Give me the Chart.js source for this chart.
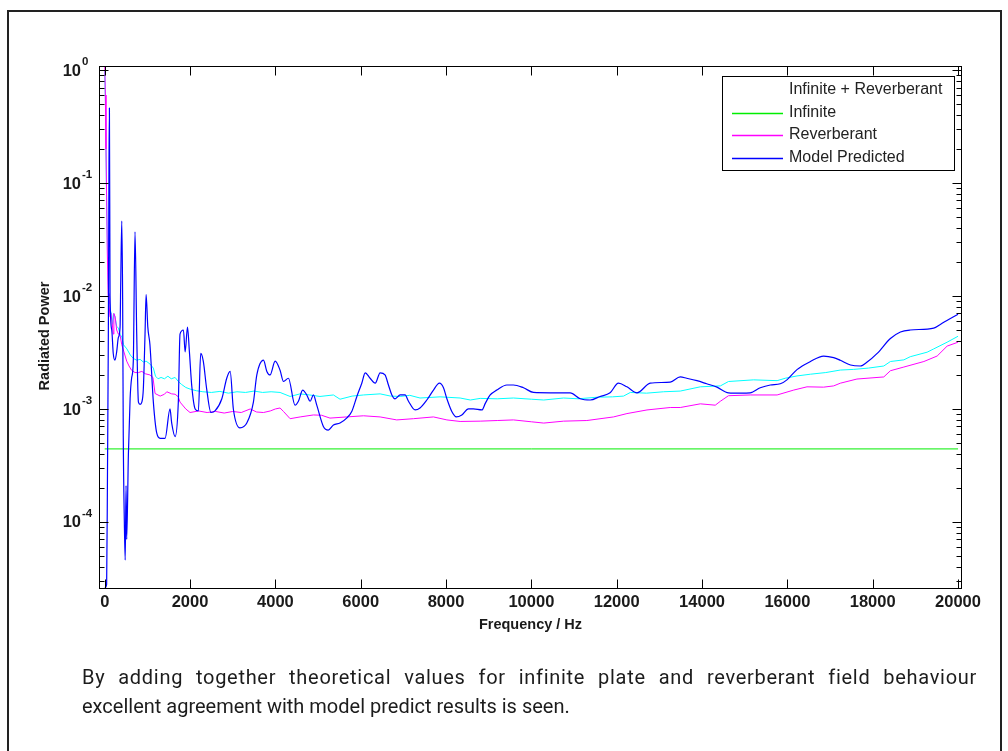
<!DOCTYPE html>
<html>
<head>
<meta charset="utf-8">
<title>Radiated Power vs Frequency</title>
<script src="https://cdn.jsdelivr.net/npm/chart.js@4/dist/chart.umd.min.js"></script>
<style>
  html, body { margin: 0; padding: 0; background: #fff; }
  body { width: 1008px; height: 751px; position: relative; overflow: hidden; }
  #frame { position: absolute; left: 7px; top: 10px; width: 995px; height: 800px;
           border: 2px solid #222; box-sizing: border-box; }
  #plot { position: absolute; left: 0; top: 0; }
  #caption { position: absolute; left: 82px; top: 663px; width: 895px;
             font-family: Roboto, "Liberation Sans", sans-serif; font-size: 20px;
             line-height: 29px; color: #1c1c1c; }
  #caption .full { text-align: justify; text-align-last: justify; letter-spacing: 0.7px; }
</style>
</head>
<body>
<div id="frame"></div>
<canvas id="plot" width="1008" height="751"></canvas>
<div id="caption">
  <div class="full">By adding together theoretical values for infinite plate and reverberant field behaviour</div>
  <div>excellent agreement with model predict results is seen.</div>
</div>
<script>
// ---- axis ticks ----
const xTickValues = [0, 2000, 4000, 6000, 8000, 10000, 12000, 14000, 16000, 18000, 20000];
const xTickLabels = ['0', '2000', '4000', '6000', '8000', '10000', '12000', '14000', '16000', '18000', '20000'];
const yDecadeExponents = [0, -1, -2, -3, -4];
const yDecadeLabels = ['0', '-1', '-2', '-3', '-4'];

// ---- series: Infinite (constant infinite-plate power) ----
const infiniteFreq  = [0, 20000];
const infinitePower = [4.43e-4, 4.43e-4];

// ---- series: Reverberant ----
const reverbFreq = [0, 15, 30, 45, 60, 80, 100, 125, 140, 170, 200, 215, 245, 280, 320, 360, 400, 450, 515, 570,
  630, 710, 790, 870, 950, 1060, 1130, 1180, 1300, 1400, 1455, 1570, 1650, 1725, 1765, 1900, 2000, 2200, 2400, 2600,
  2800, 3000, 3200, 3410, 3560, 3720, 3880, 4000, 4110, 4190, 4345, 4580, 4890, 5080, 5280, 5670, 6065, 6455, 6845, 7235,
  7705, 8020, 8330, 8800, 9200, 9580, 10000, 10290, 10755, 11300, 11925, 12240, 12710, 13255, 13490, 13960, 14310, 14430, 14620, 15130,
  15760, 16150, 16460, 16850, 17085, 17240, 17630, 18260, 18415, 18730, 19200, 19510, 19745, 20000];
const reverbPower = [1.2, 0.6, 0.2, 0.075, 0.025, 0.0105, 8.5e-3, 6.5e-3, 7.1e-3, 6.0e-3, 4.6e-3, 7.0e-3, 6.5e-3, 5.0e-3, 4.6e-3, 4.5e-3, 3.7e-3, 3.2e-3, 2.65e-3, 2.4e-3,
  2.2e-3, 2.1e-3, 2.1e-3, 2.15e-3, 2.05e-3, 2.0e-3, 1.9e-3, 1.37e-3, 1.3e-3, 1.35e-3, 1.42e-3, 1.36e-3, 1.35e-3, 1.28e-3, 1.15e-3, 1.0e-3, 9.3e-4, 9.6e-4, 9.3e-4, 9.5e-4,
  9.2e-4, 9.5e-4, 9.3e-4, 1.0e-3, 9.4e-4, 9.3e-4, 9.6e-4, 1.0e-3, 1.02e-3, 9.5e-4, 8.2e-4, 8.5e-4, 8.85e-4, 8.8e-4, 8.3e-4, 8.5e-4, 8.7e-4, 8.5e-4, 8.0e-4, 8.2e-4,
  8.5e-4, 8.0e-4, 7.75e-4, 7.8e-4, 7.9e-4, 8.0e-4, 7.7e-4, 7.5e-4, 7.8e-4, 7.9e-4, 8.5e-4, 9.1e-4, 9.8e-4, 1.03e-3, 1.03e-3, 1.11e-3, 1.08e-3, 1.17e-3, 1.31e-3, 1.33e-3,
  1.33e-3, 1.47e-3, 1.57e-3, 1.56e-3, 1.6e-3, 1.69e-3, 1.84e-3, 1.92e-3, 2.18e-3, 2.35e-3, 2.63e-3, 2.94e-3, 3.6e-3, 3.9e-3];

// ---- series: Infinite + Reverberant ----
const sumFreq = [0, 20, 40, 70, 90, 120, 140, 165, 185, 210, 240, 280, 320, 360, 400, 440, 520, 600, 670, 750,
  830, 905, 970, 1060, 1140, 1190, 1250, 1320, 1400, 1480, 1560, 1650, 1725, 1800, 1900, 2000, 2150, 2300, 2500, 2700,
  2900, 3100, 3300, 3500, 3700, 3900, 4110, 4345, 4580, 4800, 5045, 5360, 5515, 5800, 6065, 6455, 6700, 6925, 7150, 7390,
  7860, 8330, 8570, 8800, 9200, 9580, 10000, 10290, 10755, 11100, 11535, 11900, 12160, 12320, 12700, 13100, 13490, 13960, 14430, 14620,
  15210, 15760, 15950, 16225, 16540, 16900, 17240, 17555, 17900, 18260, 18415, 18730, 18880, 19275, 19430, 19745, 20000];
const sumPower = [1.0, 0.45, 0.09, 0.02, 0.011, 8.0e-3, 7.3e-3, 6.8e-3, 5.6e-3, 7.0e-3, 6.6e-3, 5.4e-3, 5.2e-3, 4.6e-3, 4.3e-3, 3.7e-3, 3.4e-3, 3.0e-3, 2.8e-3, 2.7e-3,
  2.75e-3, 2.6e-3, 2.65e-3, 2.5e-3, 2.3e-3, 1.95e-3, 1.85e-3, 1.9e-3, 1.85e-3, 1.95e-3, 1.85e-3, 1.9e-3, 1.75e-3, 1.65e-3, 1.55e-3, 1.5e-3, 1.45e-3, 1.42e-3, 1.4e-3, 1.43e-3,
  1.38e-3, 1.42e-3, 1.4e-3, 1.44e-3, 1.4e-3, 1.42e-3, 1.4e-3, 1.29e-3, 1.36e-3, 1.33e-3, 1.29e-3, 1.33e-3, 1.22e-3, 1.3e-3, 1.33e-3, 1.36e-3, 1.3e-3, 1.29e-3, 1.32e-3, 1.25e-3,
  1.28e-3, 1.25e-3, 1.2e-3, 1.24e-3, 1.23e-3, 1.25e-3, 1.22e-3, 1.2e-3, 1.25e-3, 1.23e-3, 1.27e-3, 1.28e-3, 1.3e-3, 1.4e-3, 1.38e-3, 1.42e-3, 1.44e-3, 1.57e-3, 1.6e-3, 1.75e-3,
  1.81e-3, 1.78e-3, 1.87e-3, 1.96e-3, 2.03e-3, 2.1e-3, 2.21e-3, 2.24e-3, 2.3e-3, 2.4e-3, 2.63e-3, 2.72e-3, 2.9e-3, 3.18e-3, 3.4e-3, 3.9e-3, 4.4e-3];

// ---- series: Model Predicted ----
const modelFreq = [0, 45, 65, 85, 100, 110, 125, 165, 200, 240, 280, 320, 360, 375, 400, 420, 435, 460, 480, 500,
  515, 555, 595, 630, 670, 710, 750, 790, 830, 870, 905, 945, 970, 1010, 1060, 1140, 1220, 1300, 1415, 1530,
  1570, 1650, 1725, 1765, 1845, 1885, 1940, 1985, 2040, 2120, 2195, 2250, 2310, 2390, 2490, 2585, 2745, 2860, 2940, 3015,
  3170, 3330, 3485, 3565, 3720, 3800, 3875, 3995, 4110, 4190, 4305, 4460, 4540, 4640, 4735, 4815, 4890, 4970, 5125, 5240,
  5360, 5515, 5670, 5790, 5910, 6025, 6105, 6220, 6340, 6455, 6570, 6650, 6730, 6805, 6925, 7040, 7120, 7275, 7390, 7550,
  7705, 7845, 7940, 8020, 8135, 8240, 8370, 8525, 8640, 8840, 8920, 9035, 9190, 9425, 9580, 9815, 10050, 10440, 10910, 11145,
  11380, 11610, 11845, 12040, 12240, 12475, 12785, 13255, 13490, 13640, 13880, 14110, 14350, 14620, 14895, 15130, 15365, 15600, 15835, 15990,
  16225, 16540, 16850, 17085, 17240, 17480, 17710, 17870, 18105, 18415, 18650, 18880, 19430, 19585, 19780, 20000];
const modelPower = [2.6e-5, 2.8e-5, 2.8e-4, 4.6e-3, 0.15, 0.46, 0.01, 5e-3, 3.1e-3, 2.7e-3, 3.2e-3, 4.3e-3, 5.3e-3, 0.013, 0.046, 9.5e-3, 5.7e-4, 1e-4, 4.6e-5, 2.1e-4,
  7e-5, 4e-4, 1.23e-3, 1.87e-3, 2.65e-3, 0.037, 4.6e-3, 1.15e-3, 1.1e-3, 1.15e-3, 1.5e-3, 4.6e-3, 0.0103, 5.3e-3, 3.7e-3, 1.15e-3, 6.1e-4, 5.5e-4, 5.5e-4, 1.0e-3,
  7.5e-4, 5.7e-4, 1.15e-3, 4.6e-3, 5.0e-3, 3.2e-3, 5.3e-3, 3.2e-3, 1.6e-3, 1.0e-3, 9.6e-4, 3.1e-3, 2.65e-3, 1.5e-3, 9.3e-4, 9.6e-4, 1.23e-3, 1.87e-3, 2.15e-3, 1.0e-3,
  6.8e-4, 7.5e-4, 1.15e-3, 2.0e-3, 2.7e-3, 2.15e-3, 2.0e-3, 2.65e-3, 2.2e-3, 1.75e-3, 1.87e-3, 1.08e-3, 1.17e-3, 1.47e-3, 1.33e-3, 1.17e-3, 1.33e-3, 1.08e-3, 7.0e-4, 6.5e-4,
  7.2e-4, 7.5e-4, 8.3e-4, 9.5e-4, 1.29e-3, 1.69e-3, 2.09e-3, 1.87e-3, 1.69e-3, 2.09e-3, 2.0e-3, 1.63e-3, 1.33e-3, 1.23e-3, 1.33e-3, 1.33e-3, 1.17e-3, 9.8e-4, 1.02e-3, 1.2e-3,
  1.47e-3, 1.69e-3, 1.54e-3, 1.23e-3, 9.5e-4, 8.5e-4, 8.85e-4, 1.0e-3, 1.0e-3, 9.8e-4, 1.12e-3, 1.33e-3, 1.47e-3, 1.63e-3, 1.63e-3, 1.54e-3, 1.4e-3, 1.39e-3, 1.39e-3, 1.23e-3,
  1.2e-3, 1.29e-3, 1.39e-3, 1.69e-3, 1.57e-3, 1.39e-3, 1.69e-3, 1.73e-3, 1.92e-3, 1.87e-3, 1.78e-3, 1.67e-3, 1.56e-3, 1.39e-3, 1.38e-3, 1.39e-3, 1.54e-3, 1.63e-3, 1.67e-3, 1.81e-3,
  2.23e-3, 2.63e-3, 2.94e-3, 2.85e-3, 2.7e-3, 2.45e-3, 2.4e-3, 2.6e-3, 3.1e-3, 4.2e-3, 4.8e-3, 5.0e-3, 5.2e-3, 5.6e-3, 6.2e-3, 6.9e-3];

// axis limits (tight around the data, as exported)
const X_MIN = -134, X_MAX = 20093;
const Y_MIN = 2.55e-5, Y_MAX = 1.085;

const toPoints = (xs, ys) => xs.map((f, i) => ({ x: f, y: ys[i] }));

const TICK_FONT = 'bold 16.5px "Liberation Sans", Arial, sans-serif';
const SUP_FONT = 'bold 11.5px "Liberation Sans", Arial, sans-serif';
const TITLE_FONT = 'bold 14.5px "Liberation Sans", Arial, sans-serif';
const LEGEND_FONT = '16px "Liberation Sans", Arial, sans-serif';
const TEXT_COLOR = '#1a1a1a';

// Box, inward ticks, tick labels, axis titles and legend, drawn from the chart's scales
const matlabAxes = {
  id: 'matlabAxes',
  afterDatasetsDraw(chart) {
    const { ctx, chartArea: a, scales: { x, y } } = chart;
    const L = Math.round(a.left) + 0.5, R = Math.round(a.right) - 0.5;
    const T = Math.round(a.top) + 0.5, B = Math.round(a.bottom) - 0.5;
    ctx.save();
    ctx.strokeStyle = '#000';
    ctx.lineWidth = 1;
    ctx.strokeRect(L, T, R - L, B - T);

    // x ticks (bottom and top, pointing inward)
    ctx.beginPath();
    xTickValues.forEach(v => {
      const px = Math.round(x.getPixelForValue(v)) + 0.5;
      ctx.moveTo(px, B); ctx.lineTo(px, B - 9);
      ctx.moveTo(px, T); ctx.lineTo(px, T + 9);
    });
    // y ticks, major and minor, on both sides
    yDecadeExponents.concat([-5]).forEach(e => {
      for (let m = 1; m <= 9; m++) {
        const v = m * Math.pow(10, e);
        if (v < Y_MIN || v > Y_MAX) continue;
        const py = Math.round(y.getPixelForValue(v)) + 0.5;
        const len = m === 1 ? 9 : 5;
        ctx.moveTo(L, py); ctx.lineTo(L + len, py);
        ctx.moveTo(R, py); ctx.lineTo(R - len, py);
      }
    });
    ctx.stroke();

    // x tick labels
    ctx.fillStyle = TEXT_COLOR;
    ctx.font = TICK_FONT;
    ctx.textAlign = 'center';
    ctx.textBaseline = 'middle';
    xTickValues.forEach((v, i) => {
      ctx.fillText(xTickLabels[i], x.getPixelForValue(v), a.bottom + 13);
    });

    // y tick labels: 10 with superscript exponent
    yDecadeExponents.forEach((e, i) => {
      const py = y.getPixelForValue(Math.pow(10, e));
      ctx.font = TICK_FONT;
      ctx.textAlign = 'right';
      ctx.textBaseline = 'middle';
      ctx.fillText('10', 81, py + 1);
      ctx.font = SUP_FONT;
      ctx.textAlign = 'left';
      ctx.fillText(yDecadeLabels[i], 82, py - 8);
    });

    // axis titles
    ctx.font = TITLE_FONT;
    ctx.textAlign = 'center';
    ctx.textBaseline = 'middle';
    ctx.fillText('Frequency / Hz', (a.left + a.right) / 2, 625);
    ctx.save();
    ctx.translate(45, 336);
    ctx.rotate(-Math.PI / 2);
    ctx.fillText('Radiated Power', 0, 0);
    ctx.restore();

    // legend box
    const lx = 722.5, ly = 76.5, lw = 232, lh = 94;
    ctx.fillStyle = '#fff';
    ctx.fillRect(lx, ly, lw, lh);
    ctx.strokeStyle = '#000';
    ctx.strokeRect(lx, ly, lw, lh);
    ctx.font = LEGEND_FONT;
    ctx.textAlign = 'left';
    ctx.textBaseline = 'middle';
    const rows = [90, 113, 135, 158];
    chart.data.datasets.forEach((ds, i) => {
      if (ds.legendLine) {
        ctx.strokeStyle = ds.borderColor;
        ctx.lineWidth = 1.5;
        ctx.beginPath();
        ctx.moveTo(732, rows[i] + 0.5); ctx.lineTo(783, rows[i] + 0.5);
        ctx.stroke();
      }
      ctx.fillStyle = '#222';
      ctx.fillText(ds.label, 789, rows[i]);
    });
    ctx.restore();
  }
};

new Chart(document.getElementById('plot'), {
  type: 'line',
  data: {
    datasets: [
      { label: 'Infinite + Reverberant', data: toPoints(sumFreq, sumPower), borderColor: '#00ffff',
        borderWidth: 1, order: 3, legendLine: false },
      { label: 'Infinite', data: toPoints(infiniteFreq, infinitePower), borderColor: '#00ee00',
        borderWidth: 1, order: 2, legendLine: true },
      { label: 'Reverberant', data: toPoints(reverbFreq, reverbPower), borderColor: '#ff00ff',
        borderWidth: 1, order: 1, legendLine: true },
      { label: 'Model Predicted', data: toPoints(modelFreq, modelPower), borderColor: '#0000ff',
        borderWidth: 1.2, order: 0, cubicInterpolationMode: 'monotone', legendLine: true }
    ]
  },
  options: {
    responsive: false,
    animation: false,
    layout: { padding: { left: 99, top: 66, right: 46, bottom: 162 } },
    elements: { point: { radius: 0, hoverRadius: 0 }, line: { tension: 0 } },
    plugins: { legend: { display: false }, tooltip: { enabled: false } },
    events: [],
    scales: {
      x: { type: 'linear', min: X_MIN, max: X_MAX, display: false },
      y: { type: 'logarithmic', min: Y_MIN, max: Y_MAX, display: false }
    }
  },
  plugins: [matlabAxes]
});
</script>
</body>
</html>
